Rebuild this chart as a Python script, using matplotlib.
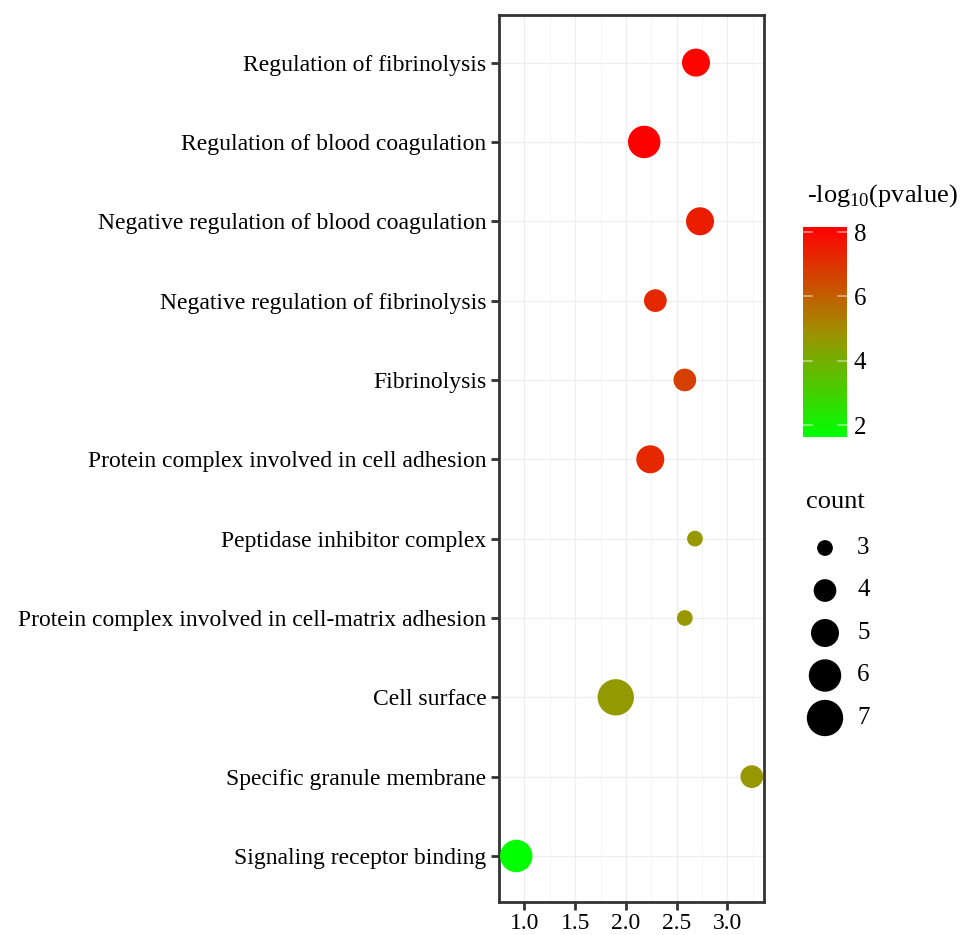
import numpy as np
import matplotlib
matplotlib.use("Agg")
import matplotlib.pyplot as plt
from matplotlib.colors import LinearSegmentedColormap, Normalize

terms = [
    "Regulation of fibrinolysis",
    "Regulation of blood coagulation",
    "Negative regulation of blood coagulation",
    "Negative regulation of fibrinolysis",
    "Fibrinolysis",
    "Protein complex involved in cell adhesion",
    "Peptidase inhibitor complex",
    "Protein complex involved in cell-matrix adhesion",
    "Cell surface",
    "Specific granule membrane",
    "Signaling receptor binding",
]
enrichment = [2.69, 2.18, 2.73, 2.29, 2.58, 2.24, 2.68, 2.58, 1.90, 3.24, 0.92]
neglog_p = [8.05, 8.16, 7.5, 7.25, 6.7, 7.25, 4.7, 4.7, 4.6, 4.7, 1.63]
counts = [5, 6, 5, 4, 4, 5, 3, 3, 7, 4, 6]

legend_counts = [3, 4, 5, 6, 7]
cbar_ticks = [2, 4, 6, 8]

plt.rcParams['font.family'] = ['Liberation Serif', 'DejaVu Serif']
plt.rcParams['mathtext.fontset'] = 'custom'
plt.rcParams['mathtext.rm'] = 'Liberation Serif'

DPI = 100
W, H = 971, 935


def marker_size(c):
    # area grows linearly with count (radius in px -> points^2)
    r_px = np.sqrt(62 + 67 * (np.asarray(c, dtype=float) - 3))
    d_pt = 2 * r_px * 72 / DPI
    return d_pt ** 2


cmap = LinearSegmentedColormap.from_list("gr", ["#00FF00", "#A09000", "#FF0000"])
norm = Normalize(vmin=min(neglog_p), vmax=max(neglog_p))

fig = plt.figure(figsize=(W / DPI, H / DPI), dpi=DPI)
ax = fig.add_axes([499 / W, 1 - 902 / H, (764 - 499) / W, (902 - 15) / H])

ypos = np.arange(len(terms))[::-1]
ax.scatter(enrichment, ypos, s=marker_size(counts), c=neglog_p, cmap=cmap,
           norm=norm, edgecolors="none", zorder=3)

ax.set_xlim(0.81, 3.36)
ax.set_ylim(-0.58, len(terms) - 1 + 0.6)
ax.set_xticks([1.0, 1.5, 2.0, 2.5, 3.0])
ax.set_xticks([0.75, 1.25, 1.75, 2.25, 2.75, 3.25], minor=True)
ax.set_yticks(ypos)
ax.set_yticklabels(terms)
ax.tick_params(axis="both", which="major", labelsize=17, length=6, width=2,
               color="#333333", labelcolor="black", pad=3)
ax.tick_params(axis="x", which="major", pad=2)
ax.tick_params(axis="x", which="minor", length=0)
ax.grid(True, which="major", color="#EEEEEE", linewidth=0.9, zorder=0)
ax.grid(True, which="minor", axis="x", color="#F4F4F4", linewidth=0.6, zorder=0)
for sp in ax.spines.values():
    sp.set_color("#333333")
    sp.set_linewidth(2)

# colour bar
cax = fig.add_axes([803 / W, 1 - 437 / H, 44 / W, 210 / H])
sm = plt.cm.ScalarMappable(cmap=cmap, norm=norm)
cb = fig.colorbar(sm, cax=cax, ticks=cbar_ticks)
cb.outline.set_visible(False)
cax.tick_params(length=0, labelsize=18, pad=5)
for t in cbar_ticks:
    cax.plot([0, 0.2], [t, t], color="white", lw=1.2, alpha=0.5, transform=cax.get_yaxis_transform())
    cax.plot([0.8, 1.0], [t, t], color="white", lw=1.2, alpha=0.5, transform=cax.get_yaxis_transform())
fig.text(807 / W, 1 - 196 / H, r"-log$_{10}$(pvalue)", fontsize=19, va="center", ha="left")

# size legend
fig.text(806 / W, 1 - 502 / H, "count", fontsize=19, va="center", ha="left")
lax = fig.add_axes([800 / W, 1 - 740 / H, 100 / W, 215 / H])
lax.set_xlim(0, 100)
lax.set_ylim(740, 525)
lax.axis("off")
ly = 548 + 42.5 * np.arange(len(legend_counts))
lax.scatter(np.full(len(legend_counts), 25), ly, s=marker_size(legend_counts),
            color="black", edgecolors="none")
for yy, c in zip(ly, legend_counts):
    lax.text(57, yy, str(c), fontsize=18, va="center", ha="left")

fig.savefig("out.png", dpi=DPI)
plt.close()
